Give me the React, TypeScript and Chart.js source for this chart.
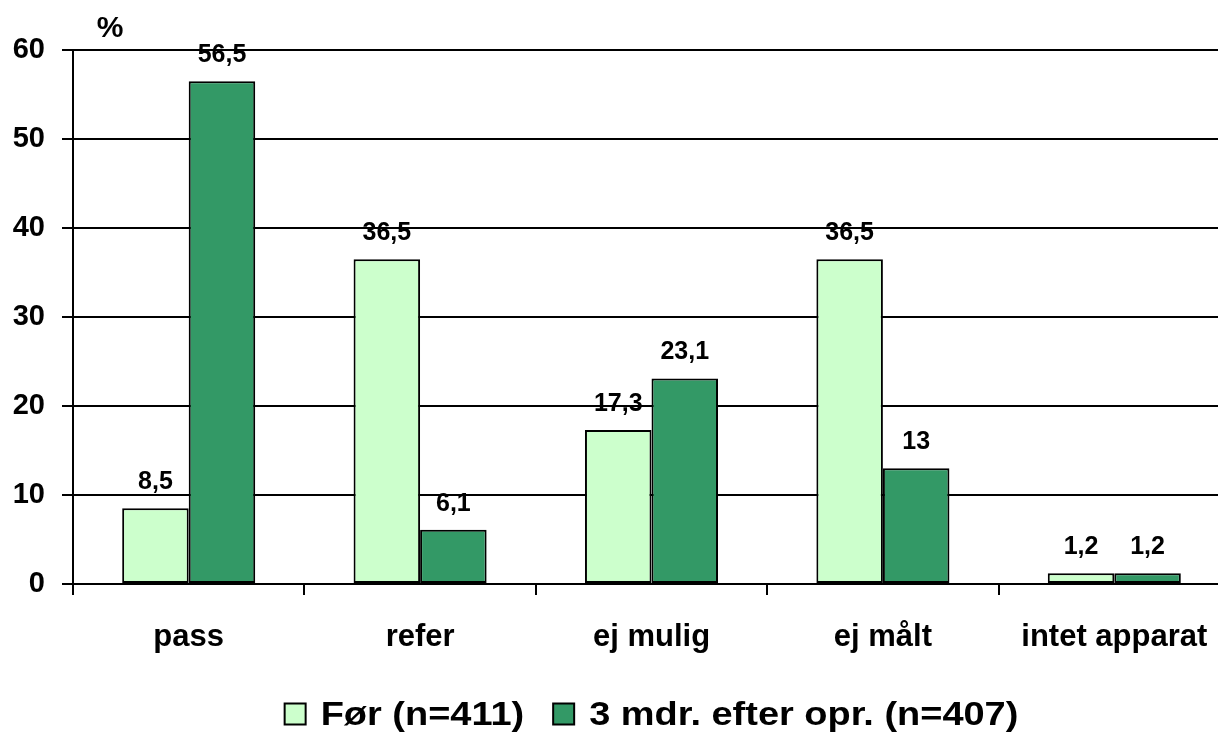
import React, { useEffect, useRef } from "react";
import { Chart, registerables } from "chart.js";

Chart.register(...registerables);

// Data
const categories = ["pass", "refer", "ej mulig", "ej målt", "intet apparat"];
const beforeValues = [8.5, 36.5, 17.3, 36.5, 1.2];
const afterValues = [56.5, 6.1, 23.1, 13, 1.2];
const seriesLabels = ["Før (n=411)", "3 mdr. efter opr. (n=407)"];
const seriesColors = ["#CCFFCC", "#339966"];
const yMin = 0;
const yMax = 60;
const yStep = 10;
const unitLabel = "%";

const FONT = '"Liberation Sans", Arial, Helvetica, sans-serif';

const formatValue = (v: number) => String(v).replace(".", ",");

// Value labels above each bar
const valueLabelPlugin = {
  id: "valueLabels",
  afterDatasetsDraw(chart: any) {
    const ctx = chart.ctx;
    ctx.save();
    ctx.font = `bold 25px ${FONT}`;
    ctx.fillStyle = "#000";
    ctx.textAlign = "center";
    ctx.textBaseline = "alphabetic";
    chart.data.datasets.forEach((ds: any, di: number) => {
      const meta = chart.getDatasetMeta(di);
      meta.data.forEach((bar: any, i: number) => {
        const v = ds.data[i] as number;
        ctx.fillText(formatValue(v), bar.x, bar.y - 19);
      });
    });
    ctx.restore();
  },
};

// Unit label above the value axis
const unitLabelPlugin = {
  id: "unitLabel",
  afterDraw(chart: any) {
    const ctx = chart.ctx;
    ctx.save();
    ctx.font = `bold 30px ${FONT}`;
    ctx.fillStyle = "#000";
    ctx.textAlign = "center";
    ctx.textBaseline = "alphabetic";
    ctx.fillText(unitLabel, chart.chartArea.left + 37, 37);
    ctx.restore();
  },
};

// Legend row under the category axis
const legendPlugin = {
  id: "bottomLegend",
  afterDraw(chart: any) {
    const ctx = chart.ctx;
    const fontSize = 33;
    const sx = 1.15;
    const box = 21;
    const boxGap = 15;
    const itemGap = 29;
    const cy = 714;
    ctx.save();
    ctx.font = `bold ${fontSize}px ${FONT}`;
    const widths = seriesLabels.map((t) => ctx.measureText(t).width * sx);
    const total =
      widths.reduce((s, w) => s + box + boxGap + w, 0) +
      itemGap * (seriesLabels.length - 1);
    let x = (chart.chartArea.left + chart.chartArea.right) / 2 - total / 2;
    seriesLabels.forEach((label, i) => {
      ctx.fillStyle = seriesColors[i];
      ctx.fillRect(x, cy - box / 2, box, box);
      ctx.strokeStyle = "#000";
      ctx.lineWidth = 2;
      ctx.strokeRect(x, cy - box / 2, box, box);
      x += box + boxGap;
      ctx.save();
      ctx.translate(x, cy + 11);
      ctx.scale(sx, 1);
      ctx.fillStyle = "#000";
      ctx.textAlign = "left";
      ctx.textBaseline = "alphabetic";
      ctx.fillText(label, 0, 0);
      ctx.restore();
      x += widths[i] + itemGap;
    });
    ctx.restore();
  },
};

export default function App() {
  const canvasRef = useRef<HTMLCanvasElement | null>(null);

  useEffect(() => {
    const canvas = canvasRef.current;
    if (!canvas) return;
    const chart = new Chart(canvas, {
      type: "bar",
      data: {
        labels: categories,
        datasets: [
          {
            label: seriesLabels[0],
            data: beforeValues,
            backgroundColor: seriesColors[0],
            borderColor: "#000",
            borderWidth: 2,
            borderSkipped: false,
          },
          {
            label: seriesLabels[1],
            data: afterValues,
            backgroundColor: seriesColors[1],
            borderColor: "#000",
            borderWidth: 2,
            borderSkipped: false,
          },
        ],
      },
      options: {
        responsive: false,
        animation: false,
        devicePixelRatio: 1,
        layout: { padding: { left: 0, right: 10, top: 50, bottom: 0 } },
        datasets: {
          bar: { categoryPercentage: 0.575, barPercentage: 1 },
        },
        plugins: {
          legend: { display: false },
          tooltip: { enabled: false },
        },
        scales: {
          x: {
            grid: {
              display: true,
              drawOnChartArea: false,
              drawTicks: true,
              tickLength: 11,
              color: "#000",
              lineWidth: 2,
              offset: true,
            },
            border: { display: true, color: "#000", width: 2 },
            ticks: {
              color: "#000",
              font: { family: FONT, size: 31, weight: "bold" },
              padding: 24,
              maxRotation: 0,
              autoSkip: false,
            },
            afterFit(scale: any) {
              scale.height = 151;
            },
          },
          y: {
            min: yMin,
            max: yMax,
            ticks: {
              stepSize: yStep,
              color: "#000",
              font: { family: FONT, size: 29, weight: "bold" },
              padding: 17,
            },
            grid: {
              color: "#000",
              lineWidth: 2,
              tickLength: 11,
              drawTicks: true,
            },
            border: { display: true, color: "#000", width: 2 },
            afterFit(scale: any) {
              scale.width = 73;
            },
          },
        },
      },
      plugins: [valueLabelPlugin, unitLabelPlugin, legendPlugin],
    });
    return () => chart.destroy();
  }, []);

  return (
    <div
      style={{
        position: "absolute",
        left: 0,
        top: 0,
        width: 1218,
        height: 735,
        overflow: "hidden",
        background: "#fff",
      }}
    >
      <canvas ref={canvasRef} width={1240} height={735} />
    </div>
  );
}
